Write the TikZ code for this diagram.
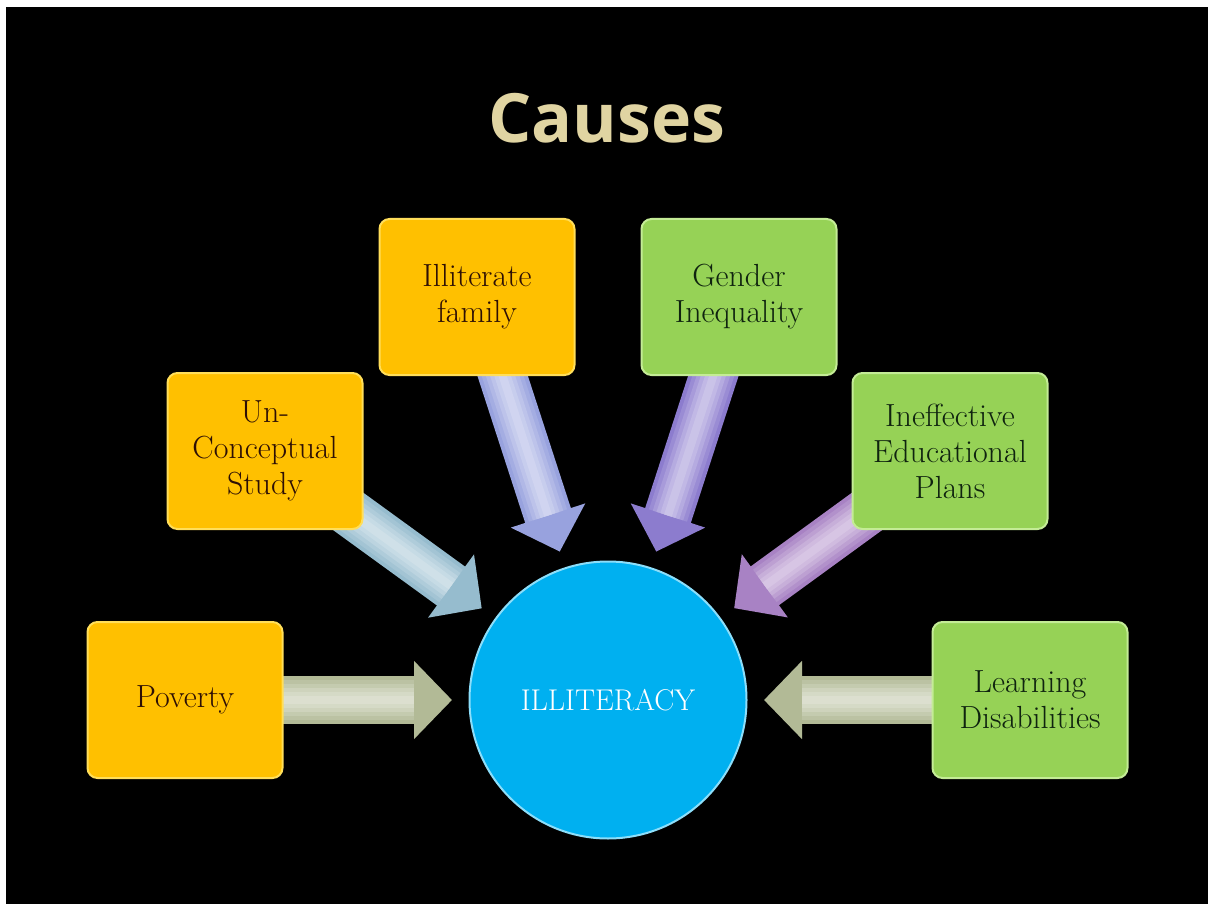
\documentclass[tikz,border=0pt]{standalone}
\usepackage{fontspec}
\newfontfamily\titlefont{Open Sans}
\usetikzlibrary{calc,arrows.meta}
\pgfdeclarelayer{back}
\pgfdeclarelayer{arrows}
\pgfsetlayers{back,arrows,main}
\definecolor{gold}{RGB}{255,192,0}
\definecolor{goldrim}{RGB}{255,222,90}
\definecolor{leaf}{RGB}{150,210,86}
\definecolor{leafrim}{RGB}{196,236,150}
\definecolor{sky}{RGB}{0,176,240}
\definecolor{skyrim}{RGB}{140,222,250}
\definecolor{brownink}{RGB}{45,15,5}
\definecolor{greenink}{RGB}{15,35,15}
\definecolor{tan}{RGB}{224,212,162}
\definecolor{sage}{RGB}{178,186,150}
\definecolor{steel}{RGB}{150,188,206}
\definecolor{periwinkle}{RGB}{152,162,222}
\definecolor{lavender}{RGB}{140,124,206}
\definecolor{mauve}{RGB}{168,130,196}
\begin{document}
\begin{tikzpicture}
  [x=1pt,y=-1pt,every node/.style={align=center,font=\fontsize{32}{36}\selectfont}]
  \tikzstyle{cause} = [rectangle,rounded corners=10pt,minimum width=195pt,minimum height=156pt,inner sep=0pt,line width=2pt]
  \tikzstyle{goldbox} = [cause,fill=gold,draw=goldrim,text=brownink]
  \tikzstyle{leafbox} = [cause,fill=leaf,draw=leafrim,text=greenink]
  \tikzstyle{hub} = [circle,minimum size=277pt,inner sep=0pt,fill=sky,draw=skyrim,line width=2pt,text=white,font=\fontsize{30}{36}\selectfont]
  \tikzstyle{blockarrow} = [line width=48pt,-{Triangle[width=76pt,length=38pt]}]
  \useasboundingbox (0,0) rectangle (1208,904);
  \begin{pgfonlayer}{back}
    \fill[white] (0,0) rectangle (1208,904);
    \fill[black] (6,7) rectangle (1208,904);
  \end{pgfonlayer}

  \node[anchor=base,text=tan,font=\titlefont\bfseries\fontsize{68}{80}\selectfont] (ttl) at (607,143) {Causes};

  \node[hub] (ill) at (608,700) {ILLITERACY};
  \node[goldbox] (pov) at (185,700) {Poverty};
  \node[goldbox] (ucs) at (265,451) {Un-\\Conceptual\\Study};
  \node[goldbox] (ilf) at (477,297) {Illiterate\\family};
  \node[leafbox] (gin) at (739,297) {Gender\\Inequality};
  \node[leafbox] (iep) at (950,451) {Ineffective\\Educational\\Plans};
  \node[leafbox] (lds) at (1030,700) {Learning\\Disabilities};

  % arrow tips stop short of the circle
  \foreach \n in {pov,ucs,ilf,gin,iep,lds}
    \coordinate (\n-tip) at ($(ill)!156pt!(\n)$);

  \begin{pgfonlayer}{arrows}
  \foreach \source/\col in {pov/sage,ucs/steel,ilf/periwinkle,gin/lavender,iep/mauve,lds/sage} {
    \draw[blockarrow,draw=\col] (\source.center) -- (\source-tip);
    \foreach \w/\m in {40/88,32/76,24/64,16/54,8/46}
      \draw[line width=\w pt,shorten >=38pt,draw=\col!\m!white] (\source.center) -- (\source-tip);
  }
  \end{pgfonlayer}
\end{tikzpicture}
\end{document}
